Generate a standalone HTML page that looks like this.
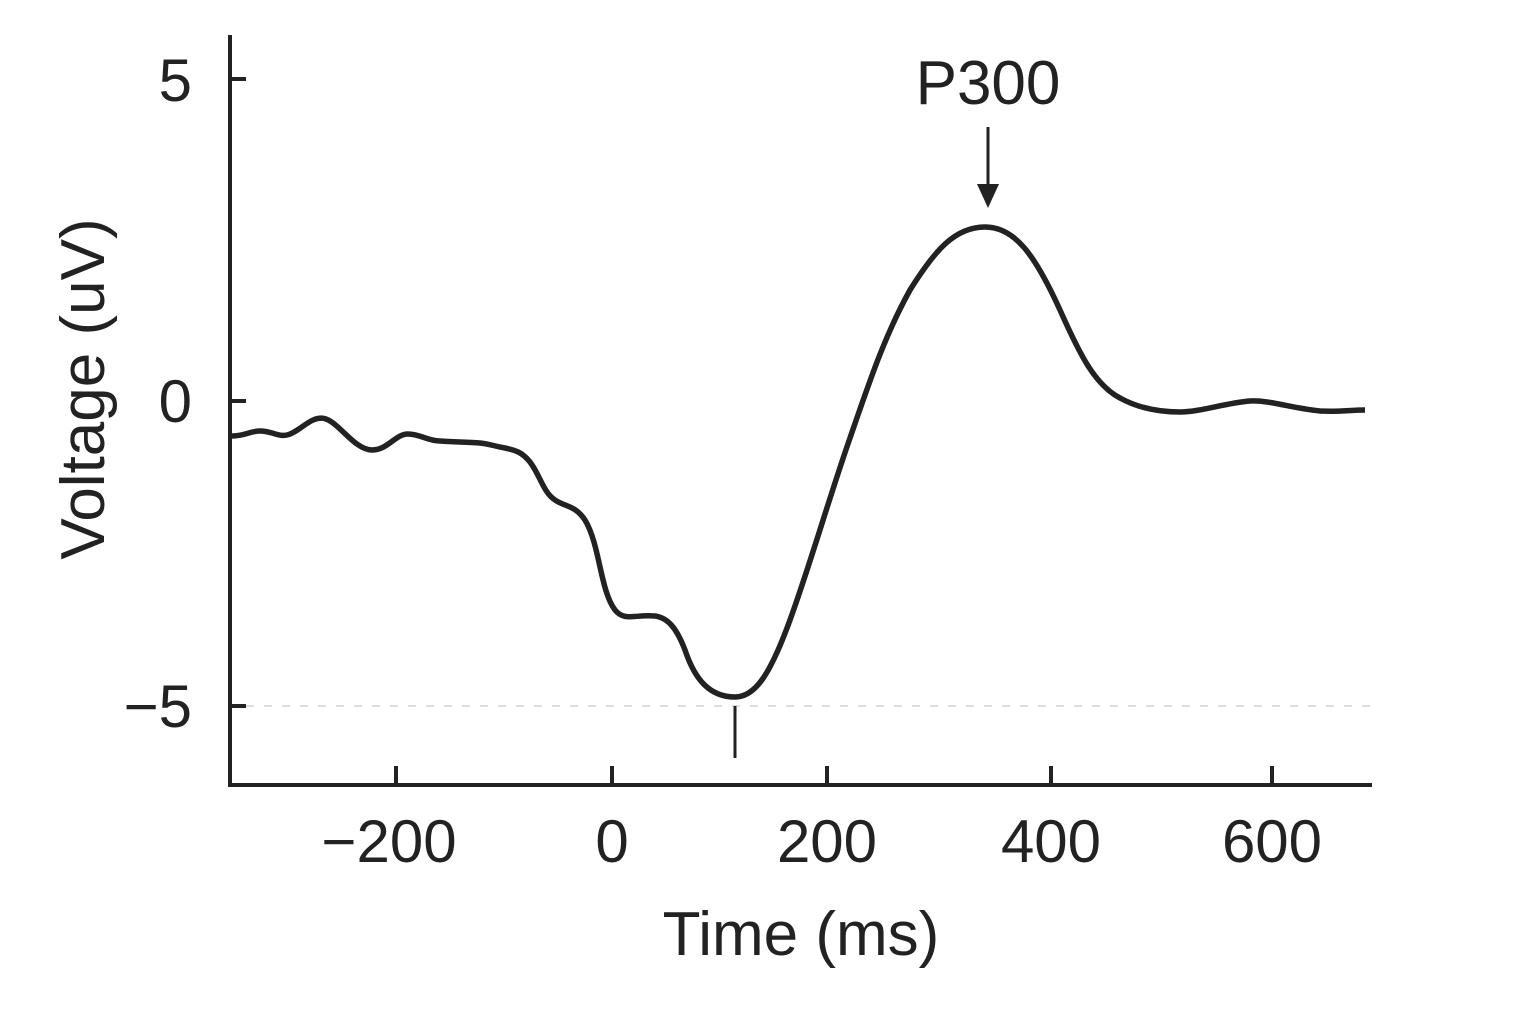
<!DOCTYPE html><html><head><style>body{margin:0;background:#fff}svg{display:block}text{font-family:"Liberation Sans",sans-serif;fill:#222}</style></head><body>
<svg width="1536" height="1024" viewBox="0 0 1536 1024">
<line x1="246" y1="706" x2="1380" y2="706" stroke="#ddd" stroke-width="2" stroke-dasharray="8,10"/>
<g stroke="#222" stroke-width="4" fill="none">
<path d="M230 35V785H1372"/>
<path d="M230 79H246M230 401H246M230 706H246M396 785V766M612 785V766M827 785V766M1051 785V766M1272 785V766"/>
<line x1="735" y1="706" x2="735" y2="758" stroke-width="3"/>
<line x1="988" y1="127" x2="988" y2="188" stroke-width="3"/>
<path stroke-width="5.5" stroke-linejoin="round" d="M232 436 C245 436,250 431,260 431 C272 431,278 437,287 435 C300 432,312 414,326 419 C340 424,355 450,372 450 C388 450,395 434,408 434 C420 434,428 441,440 441 C455 442,468 442,480 443 C490 444,493 446,505 448 C515 450,522 452,530 462 C540 475,543 492,555 500 C565 507,575 505,585 520 C600 545,600 590,615 610 C625 622,635 614,655 616 C670 618,678 632,685 650 C695 680,710 697,735 697 C755 697,770 675,790 620 C810 565,830 495,850 438 C870 380,885 335,910 290 C935 250,955 227,985 227 C1015 227,1035 255,1060 310 C1080 355,1095 385,1120 398 C1140 409,1160 412,1180 412 C1200 412,1225 403,1250 401 C1270 400,1290 408,1320 411 C1340 412,1350 410,1365 410"/>
</g>
<polygon points="977,184 999,184 988,208" fill="#222"/>
<g font-size="60" text-anchor="end"><text x="192" y="101">5</text><text x="192" y="422">0</text><text x="192" y="727">−5</text></g>
<g font-size="60" text-anchor="middle"><text x="389" y="862">−200</text><text x="612" y="862">0</text><text x="827" y="862">200</text><text x="1051" y="862">400</text><text x="1272" y="862">600</text>
<text x="801" y="955" font-size="62">Time (ms)</text>
<text font-size="62" x="988" y="104">P300</text>
<text font-size="62" transform="translate(104,389) rotate(-90)">Voltage (uV)</text></g>
</svg></body></html>
